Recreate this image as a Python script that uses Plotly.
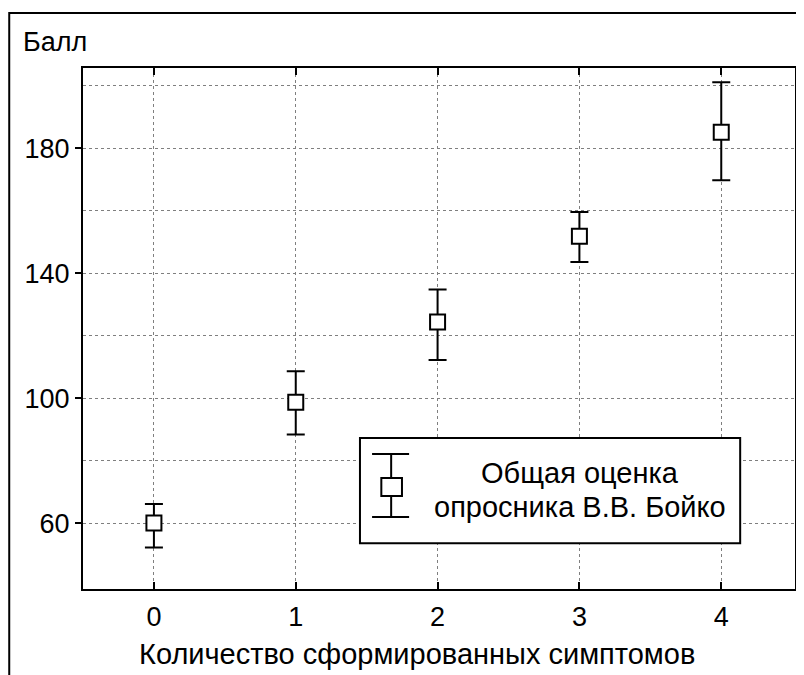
import plotly.graph_objects as go

# data
symptoms   = [0, 1, 2, 3, 4]
score_mean = [60.0, 98.7, 124.4, 151.8, 185.1]
err_plus   = [6.1, 9.9, 10.4, 7.8, 16.0]
err_minus  = [7.8, 10.3, 12.2, 8.2, 15.3]

y_major    = [60, 100, 140, 180]
y_minor    = [80, 120, 160, 200]
y_all      = [60, 80, 100, 120, 140, 160, 180, 200]

legend_lines = ["Общая оценка", "опросника В.В. Бойко"]
x_title      = "Количество сформированных симптомов"

FONT = "Arial, Liberation Sans, sans-serif"
GRID = "#7f7f7f"

fig = go.Figure()
fig.add_trace(go.Scatter(
    x=symptoms, y=score_mean, mode="markers",
    marker=dict(symbol="square", size=15, color="white",
                line=dict(color="black", width=2)),
    error_y=dict(type="data", symmetric=False, array=err_plus, arrayminus=err_minus,
                 color="black", thickness=2, width=9),
    showlegend=False,
))

# page body has an 8px margin, so the figure is 8px smaller than the window
fig.update_layout(
    width=796, height=667,
    margin=dict(l=75, r=7, t=60, b=86),
    paper_bgcolor="white", plot_bgcolor="white",
    font=dict(family=FONT, size=27, color="black"),
    xaxis=dict(
        range=[-0.5, 4.52], tickvals=symptoms, ticks="inside", ticklen=7, tickwidth=2,
        tickcolor="black", showline=True, linecolor="black", linewidth=2, mirror="ticks",
        showgrid=True, gridcolor=GRID, gridwidth=1, griddash="dot", zeroline=False,
        tickfont=dict(size=27), ticklabelstandoff=3,
    ),
    yaxis=dict(
        range=[38.9, 205.7], tickvals=y_major, ticks="outside", ticklen=6, tickwidth=2,
        tickcolor="black", showline=True, linecolor="black", linewidth=2, mirror=True,
        showgrid=True, gridcolor=GRID, gridwidth=1, griddash="dot", zeroline=False,
        tickfont=dict(size=27),
        minor=dict(tickvals=y_minor, showgrid=True, gridcolor=GRID, gridwidth=1,
                   griddash="dot", ticks=""),
    ),
    yaxis2=dict(
        overlaying="y", range=[38.9, 205.7], tickvals=y_all, ticks="inside", ticklen=6,
        tickwidth=2, tickcolor="black", showticklabels=False, showgrid=False,
        zeroline=False, showline=False, mirror="ticks",
    ),
)

# axis captions
fig.add_annotation(text="Балл", xref="paper", yref="paper", x=-0.087, y=1.082,
                   xanchor="left", yanchor="top", showarrow=False,
                   font=dict(family=FONT, size=27))
fig.add_annotation(text=x_title, xref="paper", yref="paper", x=0.469, y=-0.124,
                   xanchor="center", yanchor="middle", showarrow=False,
                   font=dict(family=FONT, size=29))

# outer frame
fig.add_shape(type="rect", xref="paper", yref="paper", x0=-0.1036, x1=1.05,
              y0=-0.3, y1=1.1056, line=dict(color="black", width=2), layer="above")

# custom legend box with error-bar icon
fig.add_shape(type="rect", xref="paper", yref="paper", x0=0.389, x1=0.923,
              y0=0.088, y1=0.290, line=dict(color="black", width=2),
              fillcolor="white", layer="above")
fig.add_shape(type="line", xref="paper", yref="paper", x0=0.4328, x1=0.4328,
              y0=0.138, y1=0.259, line=dict(color="black", width=2), layer="above")
for yy in (0.138, 0.259):
    fig.add_shape(type="line", xref="paper", yref="paper", x0=0.406, x1=0.458,
                  y0=yy, y1=yy, line=dict(color="black", width=2), layer="above")
fig.add_shape(type="rect", xref="paper", yref="paper", x0=0.419, x1=0.448,
              y0=0.1785, y1=0.213, line=dict(color="black", width=2),
              fillcolor="white", layer="above")
for txt, yy in zip(legend_lines, (0.2226, 0.1574)):
    fig.add_annotation(text=txt, xref="paper", yref="paper", x=0.6975, y=yy,
                       xanchor="center", yanchor="middle", showarrow=False,
                       font=dict(family=FONT, size=29))

fig.write_html("out.html")
